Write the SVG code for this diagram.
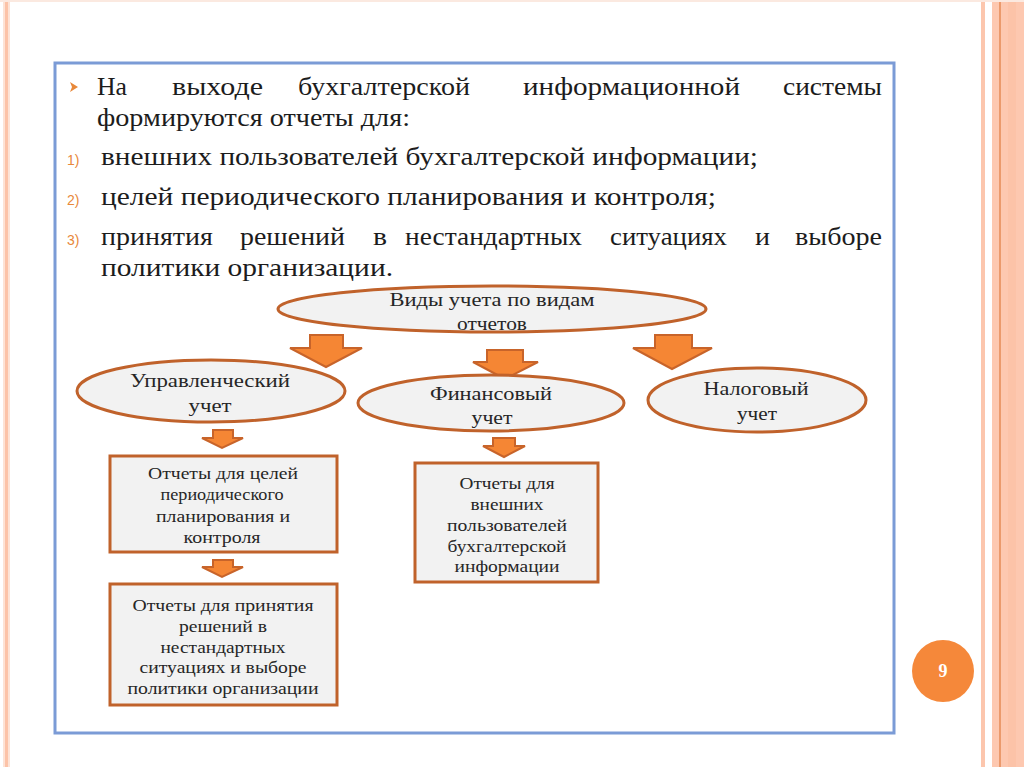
<svg xmlns="http://www.w3.org/2000/svg" width="1024" height="767" viewBox="0 0 1024 767">
<defs>
<style>
.main{font-family:"Liberation Serif","DejaVu Serif",serif;font-size:25px;fill:#1c1c1c}
.num{font-family:"Liberation Sans",sans-serif;font-size:14px;fill:#e8883a}
.node{fill:#f2f2f2;stroke:#c0622b;stroke-width:3}
.lbl{font-family:"Liberation Serif","DejaVu Serif",serif;font-size:18px;fill:#262626;text-anchor:middle}
.box{font-family:"Liberation Serif","DejaVu Serif",serif;font-size:16.5px;fill:#262626;text-anchor:middle}
.arr{fill:#f58634;stroke:#c8642a;stroke-width:2;stroke-linejoin:miter}
</style>
</defs>
<rect width="1024" height="767" fill="#ffffff"/>
<!-- decorative stripes -->
<rect x="3" y="0" width="7" height="767" fill="#fde3d6"/>
<rect x="5" y="0" width="3" height="767" fill="#fcc3a8"/>
<rect x="981" y="0" width="4" height="767" fill="#fcc6ad"/>
<rect x="992" y="0" width="32" height="767" fill="#fdc8b0"/>
<rect x="999" y="0" width="2" height="767" fill="#eb9a6c"/>
<rect x="1008" y="0" width="8" height="767" fill="#fcc0a4" opacity="0.6"/>
<rect x="0" y="0" width="1024" height="2" fill="#fbe9e0"/>
<!-- content frame -->
<rect x="55" y="63" width="839" height="670" fill="none" stroke="#7b9bd6" stroke-width="3"/>
<!-- text block -->
<g id="text">
<polygon points="70,82 78,87 70,92 72,87" fill="#e8883a"/>
<text class="main" x="97" y="95" textLength="30" lengthAdjust="spacingAndGlyphs">На</text>
<text class="main" x="172" y="95" textLength="91" lengthAdjust="spacingAndGlyphs">выходе</text>
<text class="main" x="298" y="95" textLength="172" lengthAdjust="spacingAndGlyphs">бухгалтерской</text>
<text class="main" x="523" y="95" textLength="217" lengthAdjust="spacingAndGlyphs">информационной</text>
<text class="main" x="783" y="95" textLength="99" lengthAdjust="spacingAndGlyphs">системы</text>
<text class="main" x="97" y="126" textLength="313" lengthAdjust="spacingAndGlyphs">формируются отчеты для:</text>
<text class="num" x="67" y="165">1)</text>
<text class="main" x="101" y="165" textLength="657" lengthAdjust="spacingAndGlyphs">внешних пользователей бухгалтерской информации;</text>
<text class="num" x="67" y="205">2)</text>
<text class="main" x="101" y="205" textLength="615" lengthAdjust="spacingAndGlyphs">целей периодического планирования и контроля;</text>
<text class="num" x="67" y="245">3)</text>
<text class="main" x="101" y="245" textLength="112" lengthAdjust="spacingAndGlyphs">принятия</text>
<text class="main" x="240" y="245" textLength="105" lengthAdjust="spacingAndGlyphs">решений</text>
<text class="main" x="373" y="245" textLength="14" lengthAdjust="spacingAndGlyphs">в</text>
<text class="main" x="405" y="245" textLength="177" lengthAdjust="spacingAndGlyphs">нестандартных</text>
<text class="main" x="610" y="245" textLength="117" lengthAdjust="spacingAndGlyphs">ситуациях</text>
<text class="main" x="755" y="245" textLength="15" lengthAdjust="spacingAndGlyphs">и</text>
<text class="main" x="795" y="245" textLength="87" lengthAdjust="spacingAndGlyphs">выборе</text>
<text class="main" x="101" y="276" textLength="292" lengthAdjust="spacingAndGlyphs">политики организации.</text>
</g>
<!-- connectors -->
<g id="connectors">
<polygon class="arr" points="310,335 343,335 343,348 362,348 326,367 290,348 310,348"/>
<polygon class="arr" points="487,350 523,350 523,362 538,362 505,379 473,362 487,362"/>
<polygon class="arr" points="655,335 692,335 692,348 712,348 672,369 633,348 655,348"/>
<polygon class="arr" points="213,430 233,430 233,438 243,438 222,448 202,438 213,438"/>
<polygon class="arr" points="213,560 233,560 233,567 243,567 222,577 202,567 213,567"/>
<polygon class="arr" points="493,438 515,438 515,446 525,446 504,457 483,446 493,446"/>
</g>
<g id="root">
<ellipse class="node" cx="492" cy="309" rx="214" ry="23"/>
<text class="lbl" x="492" y="306" textLength="205" lengthAdjust="spacingAndGlyphs">Виды учета по видам</text>
<text class="lbl" x="492" y="330" textLength="70" lengthAdjust="spacingAndGlyphs">отчетов</text>
</g>
<g id="mgmt">
<ellipse class="node" cx="211" cy="391" rx="134" ry="31"/>
<text class="lbl" x="210" y="387" textLength="160" lengthAdjust="spacingAndGlyphs">Управленческий</text>
<text class="lbl" x="210" y="412" textLength="43" lengthAdjust="spacingAndGlyphs">учет</text>
</g>
<g id="fin">
<ellipse class="node" cx="491" cy="403" rx="133" ry="28"/>
<text class="lbl" x="491" y="400" textLength="122" lengthAdjust="spacingAndGlyphs">Финансовый</text>
<text class="lbl" x="492" y="424" textLength="41" lengthAdjust="spacingAndGlyphs">учет</text>
</g>
<g id="tax">
<ellipse class="node" cx="757" cy="400" rx="109" ry="32"/>
<text class="lbl" x="756" y="395" textLength="105" lengthAdjust="spacingAndGlyphs">Налоговый</text>
<text class="lbl" x="757" y="420" textLength="40" lengthAdjust="spacingAndGlyphs">учет</text>
</g>
<g id="box1">
<rect class="node" x="110" y="456" width="227" height="96"/>
<text class="box" x="223" y="479" textLength="150" lengthAdjust="spacingAndGlyphs">Отчеты для целей</text>
<text class="box" x="222" y="500" textLength="123" lengthAdjust="spacingAndGlyphs">периодического</text>
<text class="box" x="223" y="522" textLength="134" lengthAdjust="spacingAndGlyphs">планирования и</text>
<text class="box" x="222" y="543" textLength="77" lengthAdjust="spacingAndGlyphs">контроля</text>
</g>
<g id="box2">
<rect class="node" x="110" y="584" width="227" height="121"/>
<text class="box" x="223" y="611" textLength="181" lengthAdjust="spacingAndGlyphs">Отчеты для принятия</text>
<text class="box" x="223" y="632" textLength="88" lengthAdjust="spacingAndGlyphs">решений в</text>
<text class="box" x="223" y="653" textLength="125" lengthAdjust="spacingAndGlyphs">нестандартных</text>
<text class="box" x="223" y="673" textLength="167" lengthAdjust="spacingAndGlyphs">ситуациях и выборе</text>
<text class="box" x="223" y="694" textLength="191" lengthAdjust="spacingAndGlyphs">политики организации</text>
</g>
<g id="box3">
<rect class="node" x="415" y="463" width="183" height="119"/>
<text class="box" x="507" y="489" textLength="95" lengthAdjust="spacingAndGlyphs">Отчеты для</text>
<text class="box" x="507" y="510" textLength="73" lengthAdjust="spacingAndGlyphs">внешних</text>
<text class="box" x="507" y="531" textLength="120" lengthAdjust="spacingAndGlyphs">пользователей</text>
<text class="box" x="507" y="552" textLength="119" lengthAdjust="spacingAndGlyphs">бухгалтерской</text>
<text class="box" x="507" y="572" textLength="105" lengthAdjust="spacingAndGlyphs">информации</text>
</g>
<g id="page">
<circle cx="943" cy="671" r="31" fill="#f5883a"/>
<text x="943" y="677" text-anchor="middle" font-family="Liberation Serif, serif" font-weight="bold" font-size="18" fill="#ffffff">9</text>
</g>
</svg>
